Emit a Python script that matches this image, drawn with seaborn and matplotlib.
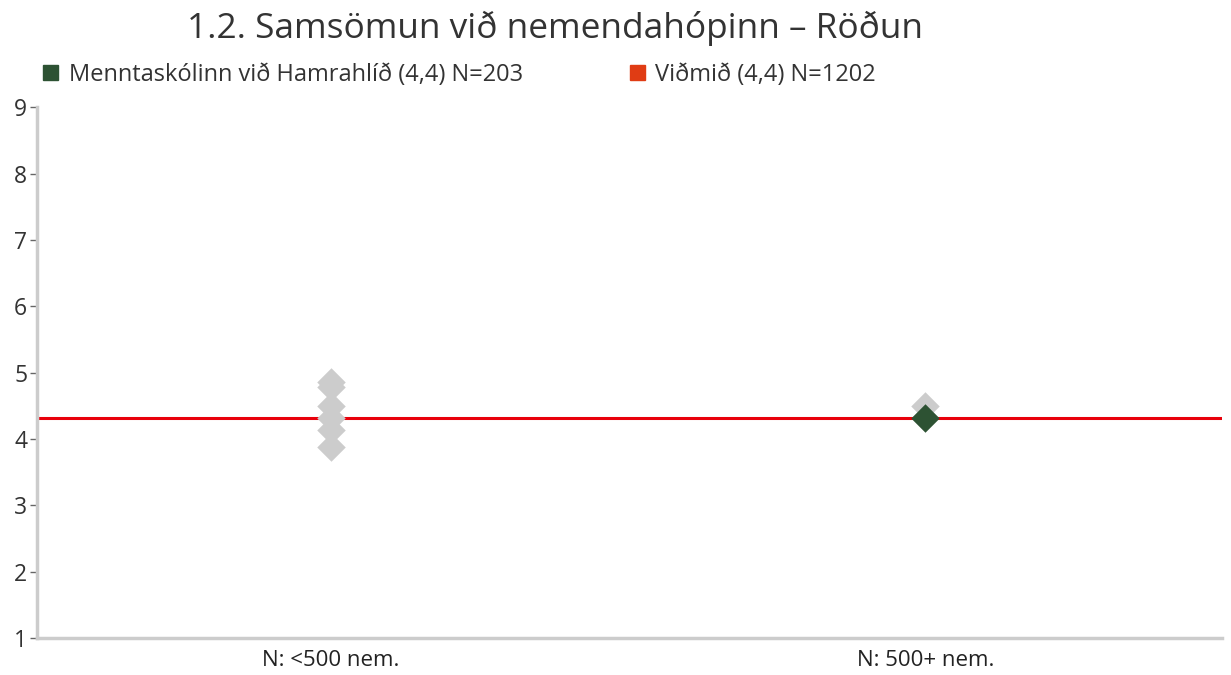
import matplotlib
matplotlib.use("Agg")
import matplotlib.pyplot as plt
import seaborn as sns
import pandas as pd
from matplotlib.patches import Patch

categories = ["N: <500 nem.", "N: 500+ nem."]
other_cat = ["N: <500 nem."] * 6 + ["N: 500+ nem."]
other_vals = [4.86, 4.79, 4.50, 4.32, 4.14, 3.88, 4.50]
school_cat = ["N: 500+ nem."]
school_vals = [4.32]
benchmark = 4.32
title = "1.2. Samsömun við nemendahópinn – Röðun"
legend_labels = ["Menntaskólinn við Hamrahlíð (4,4) N=203", "Viðmið (4,4) N=1202"]
yticks = [1, 2, 3, 4, 5, 6, 7, 8, 9]

sns.set_theme(style="white")
plt.rcParams['font.family'] = ['Open Sans', 'DejaVu Sans']

fig = plt.figure(figsize=(12.31, 6.75), dpi=100)
ax = fig.add_axes([0.030, 0.055, 0.963, 0.786])

df_o = pd.DataFrame({"cat": pd.Categorical(other_cat, categories=categories), "val": other_vals})
df_s = pd.DataFrame({"cat": pd.Categorical(school_cat, categories=categories), "val": school_vals})

ax.axhline(benchmark, color="#e8000b", lw=2.2, zorder=1)
sns.stripplot(data=df_o, x="cat", y="val", order=categories, jitter=False, marker="D",
              size=14.5, color="#cccccc", linewidth=0, ax=ax, zorder=3)
sns.stripplot(data=df_s, x="cat", y="val", order=categories, jitter=False, marker="D",
              size=14.5, color="#2d5233", linewidth=0, ax=ax, zorder=4)

ax.set_xlim(-0.495, 1.5)
ax.set_ylim(1, 9)
ax.set_yticks(yticks)
ax.set_xlabel("")
ax.set_ylabel("")
for s in ["top", "right"]:
    ax.spines[s].set_visible(False)
for s in ["left", "bottom"]:
    ax.spines[s].set_color("#cccccc")
    ax.spines[s].set_linewidth(2.5)
ax.tick_params(axis="y", left=True, length=5, width=1, color="#666666", labelsize=16.5,
               labelcolor="#333333", pad=2)
ax.tick_params(axis="x", bottom=False, labelsize=16, labelcolor="#222222", pad=3)

fig.text(0.152, 0.958, title, fontsize=25.4, color="#333333", va="center", ha="left")

handles = [Patch(color="#2d5233"), Patch(color="#e03c14")]
fig.legend(handles, legend_labels, loc="center left", bbox_to_anchor=(0.018, 0.889),
           ncol=2, frameon=False, fontsize=17, handlelength=0.62, handleheight=0.62,
           handletextpad=0.45, columnspacing=4.55, labelcolor="#333333")

fig.savefig("out.png", dpi=100)
